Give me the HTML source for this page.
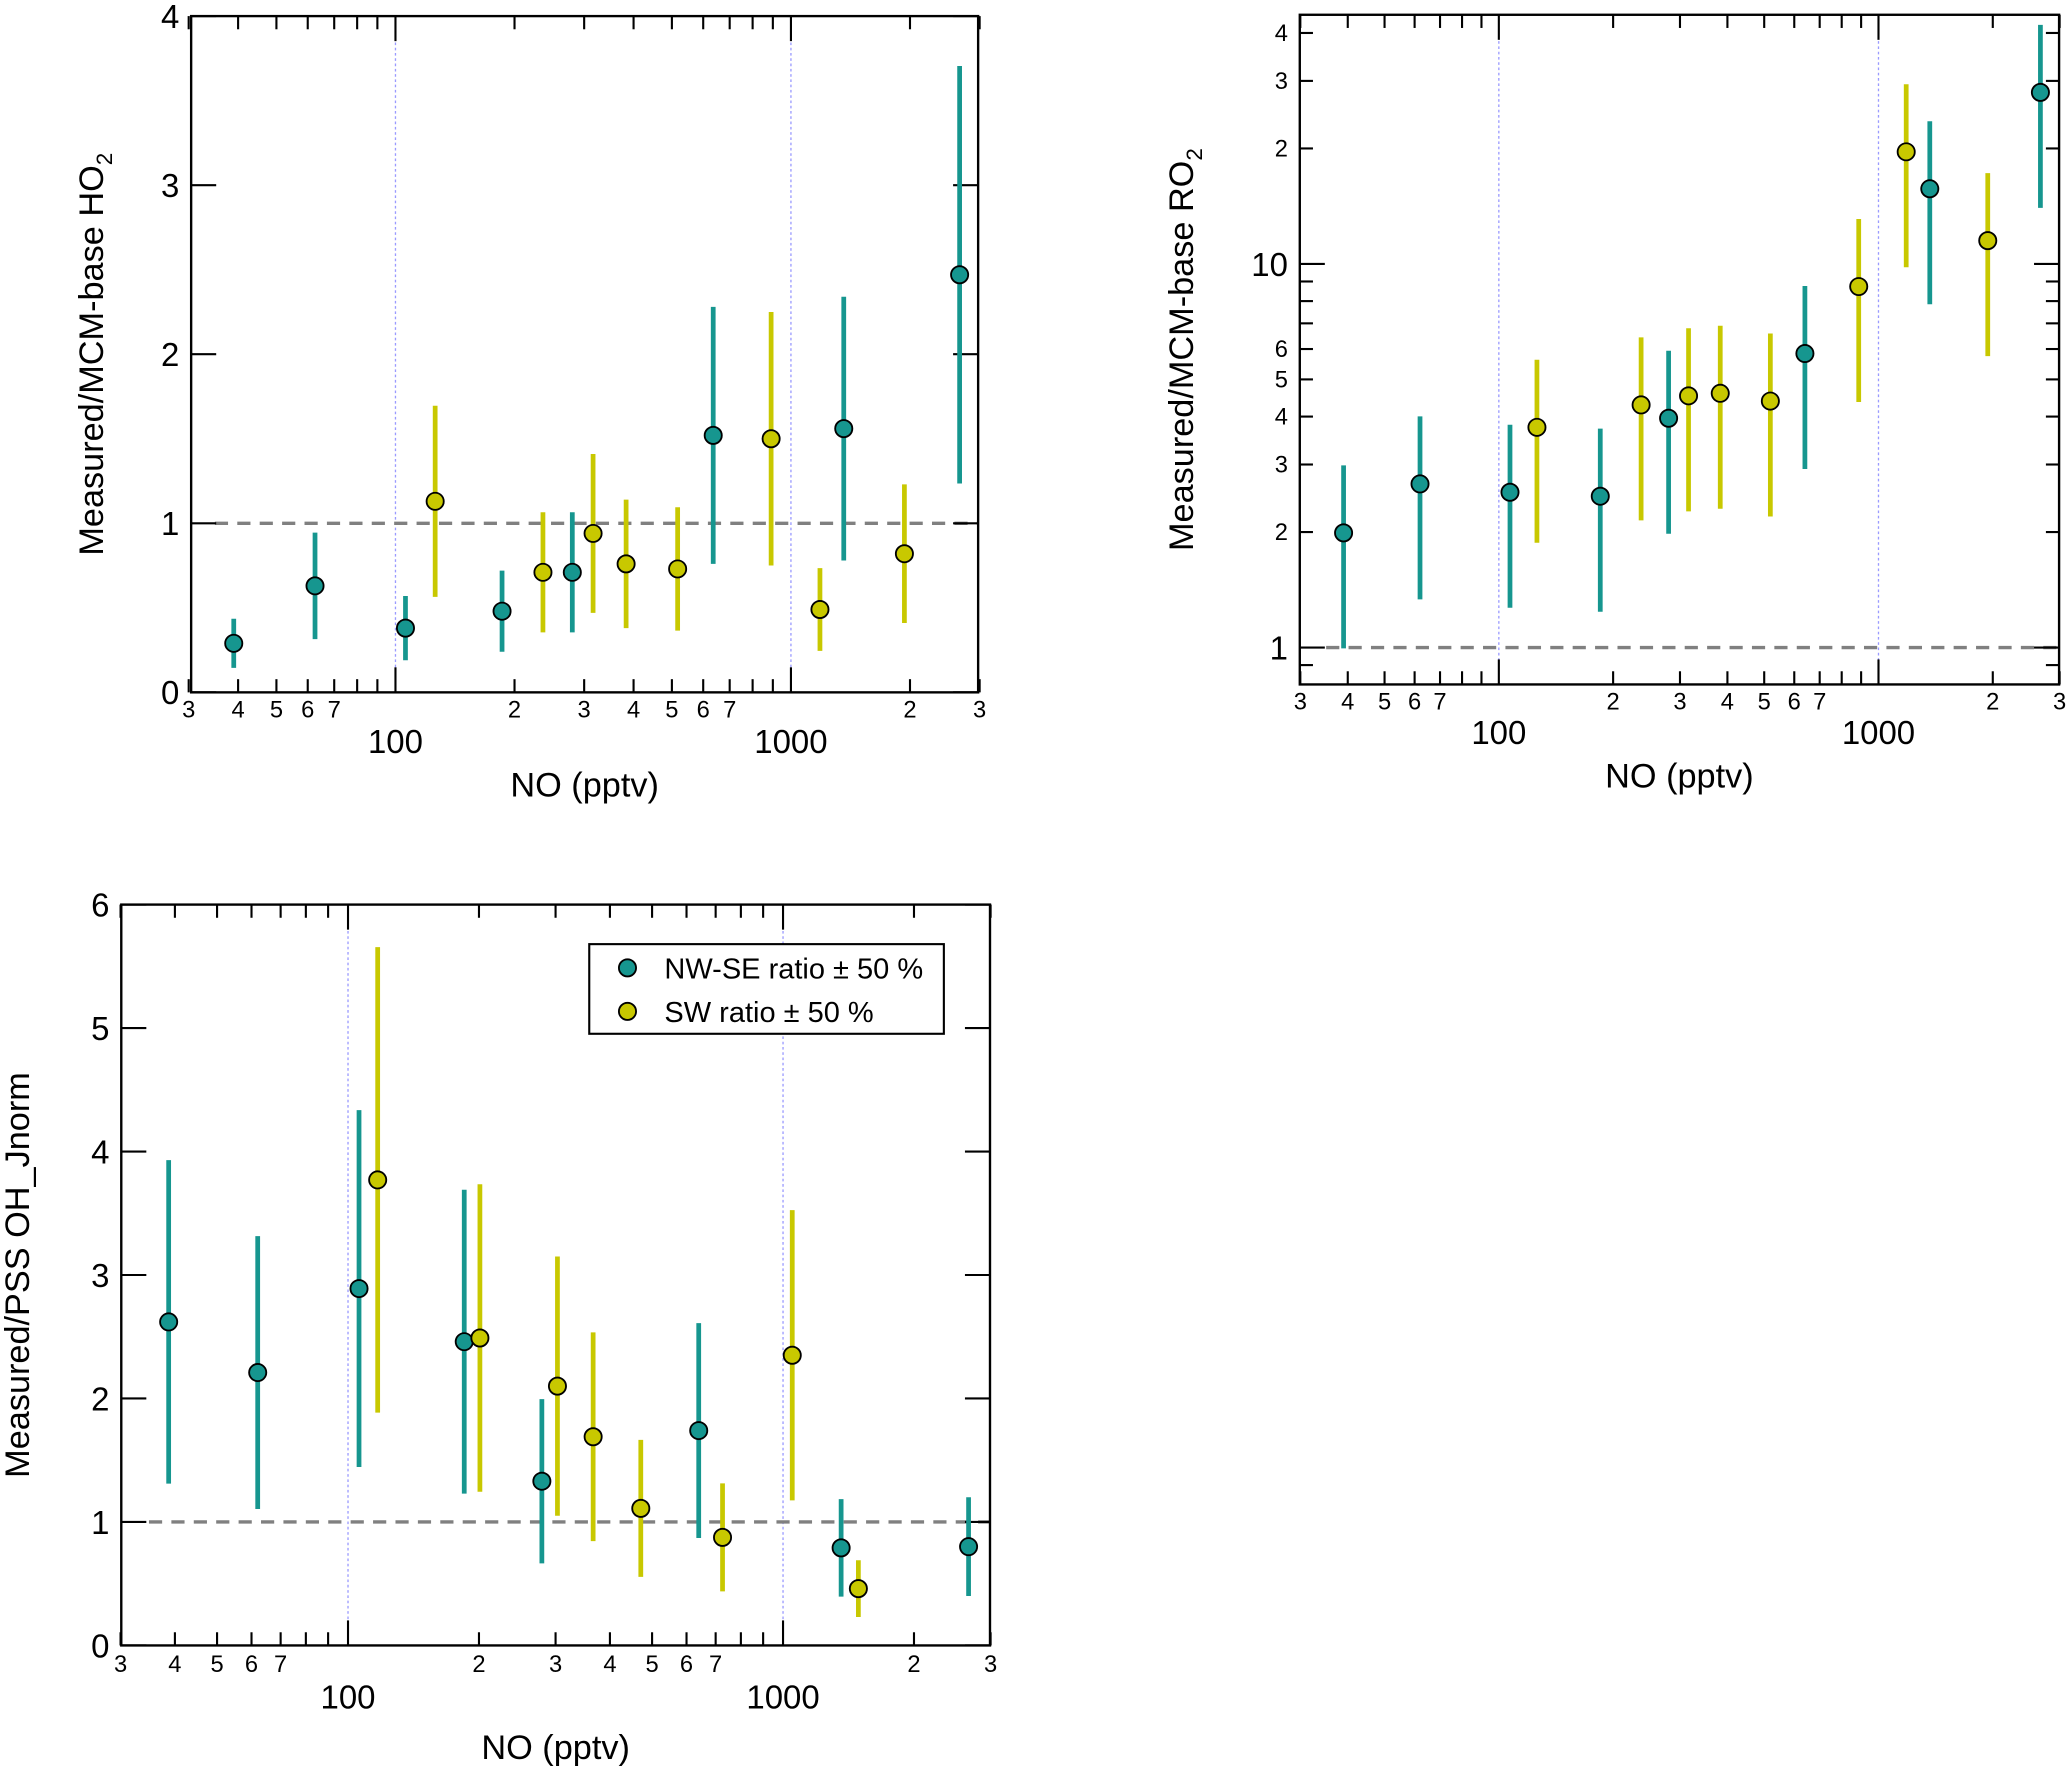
<!DOCTYPE html>
<html><head><meta charset="utf-8"><style>
html,body{margin:0;padding:0;background:#fff;}
svg{display:block;font-family:"Liberation Sans",Arial,sans-serif;}
</style></head><body>
<svg id="fig" width="2067" height="1767" viewBox="0 0 1568 1340" xmlns="http://www.w3.org/2000/svg"></svg>
<script>
// ---- Panel 1: HO2 ratio ----
const ho2TealNO = [39, 62.6, 106, 186, 280, 636, 1360, 2670];
const ho2TealVal = [0.29, 0.63, 0.38, 0.48, 0.71, 1.52, 1.56, 2.47];
const ho2YelNO = [126, 236, 316, 383, 517, 891, 1184, 1936];
const ho2YelVal = [1.13, 0.71, 0.94, 0.76, 0.73, 1.50, 0.49, 0.82];
// ---- Panel 2: RO2 ratio ----
const ro2TealNO = [39, 62, 107, 185, 280, 640, 1365, 2670];
const ro2TealVal = [1.99, 2.67, 2.54, 2.48, 3.96, 5.84, 15.7, 28.0];
const ro2YelNO = [126, 237, 316, 383, 519, 887, 1183, 1940];
const ro2YelVal = [3.75, 4.29, 4.53, 4.60, 4.39, 8.73, 19.6, 11.5];
// ---- Panel 3: OH ratio ----
const ohTealNO = [38.7, 62, 106, 185, 279, 640, 1360, 2670];
const ohTealVal = [2.62, 2.21, 2.89, 2.46, 1.33, 1.74, 0.79, 0.80];
const ohYelNO = [117, 201, 303, 366, 471, 726, 1050, 1490];
const ohYelVal = [3.77, 2.49, 2.10, 1.69, 1.11, 0.875, 2.35, 0.46];
const errFrac = 0.5;
const linTicks4 = [0, 1, 2, 3, 4];
const linTicks6 = [0, 1, 2, 3, 4, 5, 6];
const ro2MajorTicks = [1, 10];
const ro2MinorTicks = [0.9, 2, 3, 4, 5, 6, 7, 8, 9, 20, 30, 40];
const ro2MinorLabels = ["2", "3", "4", "5", "6", "20", "30", "40"];

const NS = "http://www.w3.org/2000/svg";
const svg = document.getElementById('fig');
const TEAL = "#16968f", YEL = "#c8c800";
function mk(tag, attrs, parent, text){
  const e = document.createElementNS(NS, tag);
  for (const k in attrs) e.setAttribute(k, attrs[k]);
  if (text !== undefined) e.textContent = text;
  (parent || svg).appendChild(e);
  return e;
}
function panel(cfg){
  const g = mk('g', {});
  
  
  const {x0,x1,y0,y1} = cfg;
  const dec = cfg.dec;
  const X = v => cfg.x100 + dec*(Math.log10(v) - 2);
  const Y = cfg.Y;
  [100, 1000].forEach(v => {
    const l = mk('line', {x1:X(v), x2:X(v), y1:y0, y2:y1, stroke:'#9a9aff', 'stroke-width':1, 'stroke-dasharray':'2,2'}, g);
    
    
  });
  const ref = mk('line', {x1:cfg.refX, x2:x1, y1:Y(1), y2:Y(1), stroke:'#808080', 'stroke-width':2.6, 'stroke-dasharray':'10,7'}, g);
  
  
  for (let d = 10; d <= 1000; d *= 10){
    for (let m = 1; m <= 9; m++){
      const v = d*m;
      if (v < 30 || v > 3000) continue;
      const xx = X(v);
      const major = (m === 1);
      const len = major ? 19 : 10;
      mk('line', {x1:xx, x2:xx, y1:y1, y2:y1-len, stroke:'#000', 'stroke-width':1.6}, g);
      mk('line', {x1:xx, x2:xx, y1:y0, y2:y0+len, stroke:'#000', 'stroke-width':1.6}, g);
      if (major){
        const t = mk('text', {x:xx, y:y1+cfg.decLab, 'font-size':25, 'text-anchor':'middle'}, g, String(v));
        
        
      } else if (m <= 7) {
        const t = mk('text', {x:xx, y:y1+cfg.minLab, 'font-size':18, 'text-anchor':'middle'}, g, String(m));
        
        
      }
    }
  }
  cfg.yticks.forEach(tk => {
    const yy = Y(tk.v);
    const len = tk.major ? 19 : 10;
    mk('line', {x1:x0, x2:x0+len, y1:yy, y2:yy, stroke:'#000', 'stroke-width':1.6}, g);
    mk('line', {x1:x1, x2:x1-len, y1:yy, y2:yy, stroke:'#000', 'stroke-width':1.6}, g);
    if (tk.label){
      const t = mk('text', {x:x0-9, y:yy+(tk.major?9:6), 'font-size':tk.major?25:18, 'text-anchor':'end'}, g, tk.label);
      
      
    }
  });
  const series = [[cfg.tNO, cfg.tV, TEAL, 'nw-se'], [cfg.yNO, cfg.yV, YEL, 'sw']];
  cfg.order.forEach(si => {
    const [nos, vals, col, nm] = series[si];
    nos.forEach((n, i) => {
      const v = vals[i];
      const e = mk('line', {x1:X(n), x2:X(n), y1:Y(v*(1-errFrac)), y2:Y(v*(1+errFrac)), stroke:col, 'stroke-width':3.6}, g);
      
      
    });
  });
  cfg.order.forEach(si => {
    const [nos, vals, col, nm] = series[si];
    nos.forEach((n, i) => {
      const c = mk('circle', {cx:X(n), cy:Y(vals[i]), r:6.5, fill:col, stroke:'#000', 'stroke-width':1.4}, g);
      
      
    });
  });
  const box = mk('rect', {x:x0, y:y0, width:x1-x0, height:y1-y0, fill:'none', stroke:'#000', 'stroke-width':1.8}, g);
  
  
  const xt = mk('text', {x:(x0+x1)/2, y:cfg.xtY, 'font-size':26, 'text-anchor':'middle'}, g, 'NO (pptv)');
  
  
  const yt = mk('text', {x:0, y:0, 'font-size':26, 'text-anchor':'middle', transform:`translate(${cfg.ytX},${(y0+y1)/2}) rotate(-90)`}, g);
  
  
  yt.appendChild(document.createTextNode(cfg.ytitle));
  if (cfg.sub){
    mk('tspan', {'font-size':17, dy:7}, yt, cfg.sub);
  }
  return {g, X, Y};
}
panel({name:'ho2-panel', x0:145, x1:742, y0:12, y1:525, dec:300, x100:300,
  Y: v => 525 - 128.25*v, refX:163, decLab:46, minLab:19, xtY:604, ytX:78,
  yticks: linTicks4.map(v => ({v, major:true, label:String(v)})),
  tNO:ho2TealNO, tV:ho2TealVal, yNO:ho2YelNO, yV:ho2YelVal, order:[0,1],
  ytitle:'Measured/MCM-base HO', sub:'2'});
const ro2Y = v => 491 - 291*Math.log10(v);
const ro2Ticks = ro2MajorTicks.map(v => ({v, major:true, label:String(v)}))
  .concat(ro2MinorTicks.map(v => ({v, major:false, label: ro2MinorLabels.includes(String(v)) ? String(v).replace(/0$/, '') : ''})));
panel({name:'ro2-panel', x0:986, x1:1562, y0:11, y1:519, dec:288, x100:1137,
  Y: ro2Y, refX:1006, decLab:45, minLab:19, xtY:597, ytX:905,
  yticks: ro2Ticks,
  tNO:ro2TealNO, tV:ro2TealVal, yNO:ro2YelNO, yV:ro2YelVal, order:[0,1],
  ytitle:'Measured/MCM-base RO', sub:'2'});
panel({name:'oh-panel', x0:92, x1:751, y0:686, y1:1248, dec:330, x100:264,
  Y: v => 1248 - 93.67*v, refX:113, decLab:48, minLab:20, xtY:1334, ytX:22,
  yticks: linTicks6.map(v => ({v, major:true, label:String(v)})),
  tNO:ohTealNO, tV:ohTealVal, yNO:ohYelNO, yV:ohYelVal, order:[0,1],
  ytitle:'Measured/PSS OH_Jnorm'});
const lg = mk('g', {});


mk('rect', {x:447, y:716, width:269, height:68, fill:'#fff', stroke:'#000', 'stroke-width':1.6}, lg);
const le1 = mk('g', {}, lg);


mk('circle', {cx:476, cy:734, r:6.5, fill:TEAL, stroke:'#000', 'stroke-width':1.4}, le1);
mk('text', {x:504, y:742, 'font-size':22}, le1, 'NW-SE ratio ± 50 %');
const le2 = mk('g', {}, lg);


mk('circle', {cx:476, cy:767, r:6.5, fill:YEL, stroke:'#000', 'stroke-width':1.4}, le2);
mk('text', {x:504, y:775, 'font-size':22}, le2, 'SW ratio ± 50 %');
</script>
</body></html>
